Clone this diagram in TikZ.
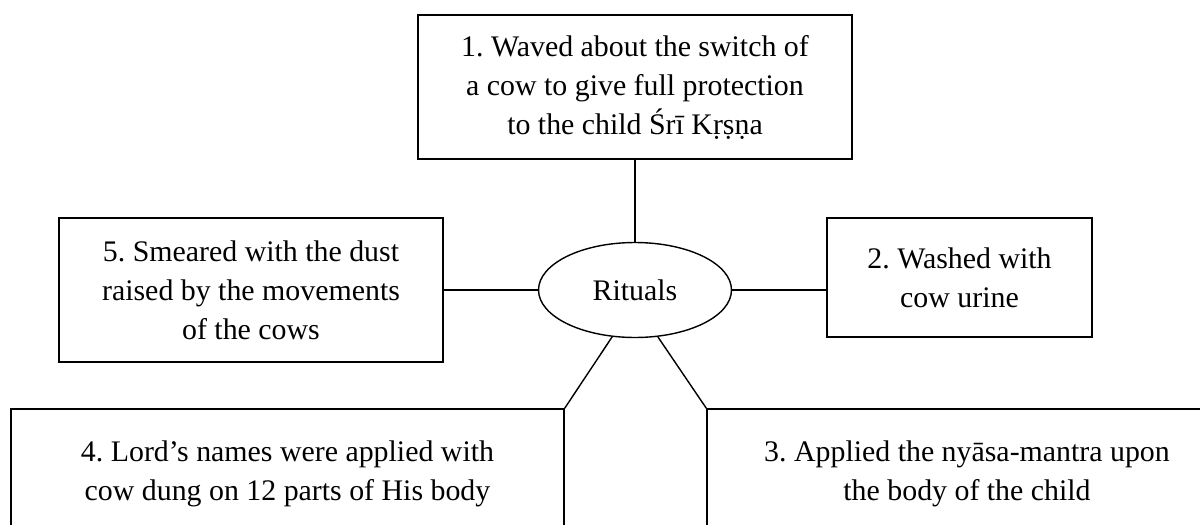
\documentclass[tikz,border=0pt]{standalone}
\usepackage{fontspec}
\setmainfont{Liberation Serif}
\usetikzlibrary{shapes.geometric}
\frenchspacing

\begin{document}
\begin{tikzpicture}[x=0.02cm,y=-0.02cm,line width=0.8pt,
    ritbox/.style={draw,rectangle,align=center,inner sep=0pt,
      font=\fontsize{17}{22.2}\selectfont},
    hub/.style={draw,ellipse,inner sep=0pt,minimum width=3.86cm,
      minimum height=1.9cm,font=\fontsize{17}{22.2}\selectfont}]
      \useasboundingbox (0,0) rectangle (1200,524);
      \clip (0,0) rectangle (1200,524);
      \node[hub] (rituals) at (635,290) {Rituals};
      \node[ritbox,minimum width=8.68cm,minimum height=2.88cm] (r1) at (635,87)
        {1. Waved about the switch of\\a cow to give full protection\\to the child Śrī Kṛṣṇa};
      \node[ritbox,minimum width=5.3cm,minimum height=2.38cm] (r2) at (959.5,277.5)
        {2. Washed with\\cow urine};
      \node[ritbox,minimum width=10.4cm,minimum height=2.6cm] (r3) at (967,474)
        {3. Applied the nyāsa-mantra upon\\the body of the child};
      \node[ritbox,minimum width=11.06cm,minimum height=2.6cm] (r4) at (287.5,474)
        {4. Lord’s names were applied with\\cow dung on 12 parts of His body};
      \node[ritbox,minimum width=7.68cm,minimum height=2.88cm] (r5) at (251,290)
        {5. Smeared with the dust\\raised by the movements\\of the cows};
      \draw (r1.south) -- (rituals.north);
      \draw (rituals.east) -- (rituals.east -| r2.west);
      \draw (rituals.296) -- (r3.north west);
      \draw (rituals.244) -- (r4.north east);
      \draw (r5.east) -- (rituals.west);
    \end{tikzpicture}
\end{document}
